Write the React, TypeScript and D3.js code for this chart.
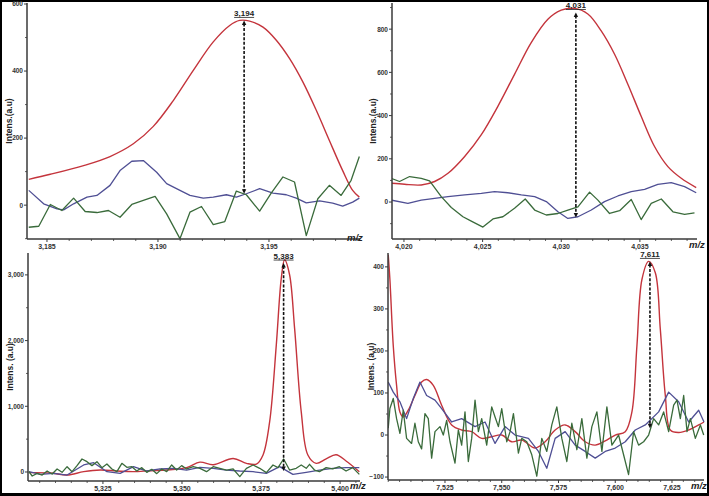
import React from 'react';
import * as d3 from 'd3';

type Pt = [number, number];

// ---------- Panel 1 (m/z 3,194) ----------
const p1Red: Pt[] = [[3184.18,77],[3185.15,92],[3186.65,118],[3187.84,145],[3188.89,183],[3189.79,235],[3190.69,312],[3191.59,402],[3192.49,487],[3193.23,536],[3193.68,551],[3194.13,549],[3194.73,531],[3195.33,492],[3195.93,437],[3196.53,367],[3197.13,283],[3197.72,193],[3198.32,103],[3198.77,44],[3199.07,24]];
const p1Blue: Pt[] = [[3184.18,44],[3184.85,4],[3185.45,-11],[3185.75,-14],[3186.2,4],[3186.8,24],[3187.25,29],[3187.84,59],[3188.29,103],[3188.82,131],[3189.34,133],[3189.94,98],[3190.39,64],[3190.99,44],[3191.44,29],[3192.04,21],[3192.49,24],[3193.08,31],[3193.53,24],[3193.98,34],[3194.58,49],[3195.18,36],[3195.78,31],[3196.23,21],[3196.68,7],[3197.28,13],[3197.87,6],[3198.32,-3],[3198.77,9],[3199.07,21]];
const p1Green: Pt[] = [[3184.18,-66],[3184.63,-63],[3185.15,2],[3185.67,-16],[3186.2,21],[3186.72,-19],[3187.25,-22],[3187.77,-16],[3188.29,-36],[3188.82,2],[3189.34,14],[3189.87,26],[3190.39,-26],[3190.99,-100],[3191.44,-21],[3191.96,-4],[3192.49,-58],[3193.01,-49],[3193.53,42],[3193.98,31],[3194.58,-18],[3195.1,36],[3195.63,84],[3196.15,69],[3196.68,-91],[3197.2,19],[3197.72,59],[3198.25,29],[3198.7,74],[3199.07,145]];
const p1Peak = { mz: 3193.88, top: 551, bottom: 34, label: '3,194' };
const p1XTicks = [3185, 3190, 3195];
const p1YTicks = [0, 200, 400, 600];

// ---------- Panel 2 (m/z 4,031) ----------
const p2Red: Pt[] = [[4019.19,87],[4020.04,82],[4021.1,79],[4021.95,95],[4022.8,133],[4023.86,211],[4024.92,312],[4025.97,443],[4027.03,591],[4028.09,738],[4029.15,846],[4030,888],[4030.85,896],[4031.69,870],[4032.54,792],[4033.39,684],[4034.24,544],[4035.08,397],[4035.93,257],[4036.78,164],[4037.63,110],[4038.58,67]];
const p2Blue: Pt[] = [[4019.19,9],[4020.25,-6],[4021.1,9],[4021.95,17],[4022.8,25],[4023.86,33],[4024.92,40],[4025.76,48],[4026.61,43],[4027.46,33],[4028.31,25],[4029.05,2],[4029.79,-45],[4030.42,-76],[4031.06,-68],[4031.91,-37],[4032.75,2],[4033.6,28],[4034.45,48],[4035.3,59],[4036.14,82],[4036.99,90],[4037.84,71],[4038.58,43]];
const p2Green: Pt[] = [[4019.19,110],[4019.72,95],[4020.36,118],[4021.1,110],[4021.63,98],[4022.37,25],[4023.01,-25],[4023.75,-68],[4024.28,-88],[4025.02,-116],[4025.66,-78],[4026.29,-68],[4027.03,-29],[4027.71,14],[4028.31,-37],[4029.05,-60],[4029.79,-53],[4030.42,-37],[4031.06,-22],[4031.8,46],[4032.33,9],[4033.07,-53],[4033.71,-40],[4034.45,12],[4035.08,-81],[4035.72,-6],[4036.36,14],[4037.1,-45],[4037.84,-57],[4038.47,-50]];
const p2Peak = { mz: 4030.93, top: 877, bottom: -71, label: '4,031' };
const p2XTicks = [4020, 4025, 4030, 4035];
const p2YTicks = [0, 200, 400, 600, 800];

// ---------- Panel 3 (m/z 5,383) ----------
const p3Red: Pt[] = [[5301.58,-10],[5308.4,-15],[5313.66,-46],[5318.91,5],[5324.16,30],[5329.41,15],[5334.66,5],[5339.92,20],[5345.17,30],[5351.47,66],[5355.67,150],[5359.87,110],[5366.18,205],[5370.38,132],[5373.53,120],[5375.63,259],[5377.73,767],[5379.83,1935],[5381.41,2951],[5382.46,3231],[5384.03,3002],[5385.61,2190],[5387.71,920],[5389.81,259],[5392.44,132],[5395.59,200],[5398.74,262],[5401.89,168],[5406.09,5]];
const p3Blue: Pt[] = [[5301.58,5],[5305.25,-36],[5309.45,-20],[5313.66,-46],[5318.91,107],[5322.06,142],[5326.26,5],[5330.46,-20],[5334.66,81],[5338.87,15],[5343.07,46],[5347.27,56],[5351.47,30],[5355.67,71],[5359.87,56],[5364.08,30],[5368.28,15],[5372.48,5],[5376.68,-20],[5380.88,81],[5385.08,-36],[5389.29,-5],[5393.49,30],[5397.69,56],[5401.89,66],[5406.09,66]];
const p3Green: Pt[] = [[5301.58,5],[5302.63,-61],[5304.2,-20],[5305.78,-46],[5307.35,15],[5308.93,-30],[5310.5,46],[5312.08,-5],[5313.66,81],[5315.23,5],[5316.81,97],[5318.38,198],[5319.96,157],[5321.53,97],[5323.11,157],[5324.68,66],[5326.26,122],[5327.84,46],[5329.41,5],[5330.99,132],[5332.56,71],[5334.14,81],[5335.71,15],[5337.29,66],[5338.87,-5],[5340.44,41],[5342.02,-25],[5343.59,46],[5345.17,5],[5346.74,107],[5348.32,30],[5349.89,97],[5351.47,46],[5353.57,81],[5355.67,56],[5357.77,5],[5359.87,81],[5361.97,56],[5364.08,30],[5366.18,46],[5368.28,-71],[5370.38,56],[5372.48,107],[5374.58,56],[5376.68,-10],[5378.78,107],[5380.36,66],[5382.14,198],[5384.03,30],[5386.13,56],[5387.71,107],[5389.29,56],[5390.34,117],[5391.91,30],[5393.49,5],[5395.59,66],[5397.69,46],[5399.79,81],[5401.89,15],[5403.99,66],[5406.09,-36]];
const p3Peak = { mz: 5382.14, top: 3180, bottom: 15, label: '5,383' };
const p3XTicks = [5325, 5350, 5375, 5400];
const p3YTicks = [0, 1000, 2000, 3000];

// ---------- Panel 4 (m/z 7,611) ----------
const p4Red: Pt[] = [[7500,429],[7500.74,370],[7502.21,213],[7503.68,118],[7505.15,55],[7506.62,43],[7508.82,59],[7511.76,94],[7514.71,126],[7516.91,132],[7519.85,118],[7523.53,71],[7527.94,24],[7532.35,12],[7536.76,8],[7541.18,-8],[7545.59,-4],[7550,0],[7554.41,-16],[7558.82,-12],[7564.71,-31],[7569.12,-16],[7573.53,12],[7577.94,24],[7582.35,8],[7586.76,-16],[7591.18,-24],[7595.59,-14],[7600,0],[7604.41,8],[7607.35,55],[7609.56,213],[7611.76,370],[7614.71,413],[7617.65,386],[7619.85,252],[7622.06,94],[7624.26,12],[7627.94,6],[7632.35,12],[7636.76,24],[7639.1,31]];
const p4Blue: Pt[] = [[7500,126],[7502.21,102],[7505.15,79],[7508.09,39],[7511.03,87],[7513.97,126],[7516.91,94],[7520.59,83],[7523.53,63],[7527.94,31],[7532.35,39],[7538.24,20],[7542.65,31],[7547.06,-20],[7551.47,20],[7555.88,0],[7561.76,-8],[7566.18,-39],[7569.85,-79],[7573.53,-8],[7577.94,8],[7582.35,-24],[7586.76,-39],[7591.18,-55],[7595.59,-39],[7600,-31],[7604.41,-16],[7608.82,12],[7613.24,24],[7619.12,55],[7623.53,102],[7627.94,79],[7632.35,31],[7636.76,59],[7639.1,31]];
const p4Green: Pt[] = [[7500,16],[7500.74,63],[7502.21,87],[7503.68,39],[7505.15,4],[7506.62,59],[7508.09,-8],[7510.29,-20],[7511.76,28],[7513.24,-16],[7514.71,-33],[7516.18,51],[7517.65,39],[7519.12,-55],[7520.59,8],[7522.79,20],[7524.26,0],[7525.74,35],[7527.21,-16],[7529.41,-67],[7530.88,12],[7532.35,-24],[7533.82,55],[7535.29,-63],[7536.76,-8],[7538.24,83],[7539.71,8],[7541.18,39],[7543.38,-24],[7545.59,67],[7547.06,43],[7548.53,20],[7550,63],[7552.21,-16],[7553.68,8],[7555.15,51],[7557.35,-43],[7558.82,-8],[7561.03,-16],[7563.24,-47],[7565.44,-98],[7567.65,-8],[7569.85,-39],[7572.06,24],[7574.26,67],[7576.47,-8],[7578.68,-63],[7580.88,28],[7583.09,-35],[7585.29,39],[7587.5,-55],[7589.71,20],[7591.91,55],[7594.12,-39],[7596.32,67],[7598.53,-24],[7601.47,0],[7603.68,-47],[7605.88,-94],[7608.09,8],[7610.29,-24],[7612.5,-16],[7614.71,0],[7616.91,39],[7619.12,24],[7621.32,55],[7623.53,8],[7625.74,71],[7627.21,83],[7628.68,39],[7630.15,94],[7631.62,8],[7633.09,39],[7635.29,-8],[7637.5,24],[7638.97,0]];
const p4Peak = { mz: 7615.29, top: 413, bottom: 16, label: '7,611' };
const p4XTicks = [7525, 7550, 7575, 7600, 7625];
const p4YTicks = [-100, 0, 100, 200, 300, 400];

const RED = '#c4343c';
const BLUE = '#4f4f94';
const GREEN = '#3a6b3b';
const AXIS = '#3a3a3a';
const FONT = '"Liberation Sans", Arial, sans-serif';

interface PanelCfg {
  id: string;
  left: number; right: number; top: number; bottom: number;
  xDomain: [number, number]; yDomain: [number, number];
  xTicks: number[]; yTicks: number[];
  xMinor: number; yMinor: number;
  red: Pt[]; blue: Pt[]; green: Pt[];
  peak: { mz: number; top: number; bottom: number; label: string };
  yLabel: string; yLabelX: number;
  mzX: number; mzY: number;
}

const panels: PanelCfg[] = [
  { id: 'p1', left: 27, right: 360, top: 3, bottom: 239, xDomain: [3184.1, 3199.1], yDomain: [-101, 603],
    xTicks: p1XTicks, yTicks: p1YTicks, xMinor: 1, yMinor: 100, red: p1Red, blue: p1Blue, green: p1Green,
    peak: p1Peak, yLabel: 'Intens.(a.u)', yLabelX: 12, mzX: 347, mzY: 241 },
  { id: 'p2', left: 392, right: 697, top: 3, bottom: 239, xDomain: [4019.24, 4038.63], yDomain: [-171, 921],
    xTicks: p2XTicks, yTicks: p2YTicks, xMinor: 1, yMinor: 100, red: p2Red, blue: p2Blue, green: p2Green,
    peak: p2Peak, yLabel: 'Intens.(a.u)', yLabelX: 376, mzX: 689, mzY: 248 },
  { id: 'p3', left: 28, right: 360, top: 253, bottom: 481, xDomain: [5301.3, 5406.3], yDomain: [-137, 3333],
    xTicks: p3XTicks, yTicks: p3YTicks, xMinor: 5, yMinor: 500, red: p3Red, blue: p3Blue, green: p3Green,
    peak: p3Peak, yLabel: 'Intens. (a.u)', yLabelX: 13, mzX: 350, mzY: 489 },
  { id: 'p4', left: 388, right: 704, top: 253, bottom: 480, xDomain: [7499.9, 7639.1], yDomain: [-107, 433],
    xTicks: p4XTicks, yTicks: p4YTicks, xMinor: 5, yMinor: 50, red: p4Red, blue: p4Blue, green: p4Green,
    peak: p4Peak, yLabel: 'Intens. (a.u)', yLabelX: 374, mzX: 691, mzY: 489 },
];

const fmt = d3.format(',');

function Panel({ cfg }: { cfg: PanelCfg }) {
  const x = d3.scaleLinear().domain(cfg.xDomain).range([cfg.left, cfg.right]);
  const y = d3.scaleLinear().domain(cfg.yDomain).range([cfg.bottom, cfg.top]);
  const lin = d3.line<Pt>().x(d => x(d[0])).y(d => y(d[1]));
  const smooth = d3.line<Pt>().x(d => x(d[0])).y(d => y(d[1])).curve(d3.curveCatmullRom.alpha(0.5));

  const xMinorTicks = d3.range(Math.ceil(cfg.xDomain[0] / cfg.xMinor) * cfg.xMinor, cfg.xDomain[1], cfg.xMinor)
    .filter(v => !cfg.xTicks.includes(v));
  const yMinorTicks = d3.range(Math.ceil(cfg.yDomain[0] / cfg.yMinor) * cfg.yMinor, cfg.yDomain[1], cfg.yMinor)
    .filter(v => !cfg.yTicks.includes(v));

  const px = x(cfg.peak.mz);
  const pyTop = y(cfg.peak.top);
  const pyBot = y(cfg.peak.bottom);
  const labelW = 20;
  const yMid = (cfg.top + cfg.bottom) / 2;

  return (
    <g>
      <defs>
        <clipPath id={`clip-${cfg.id}`}>
          <rect x={cfg.left} y={cfg.top - 2} width={cfg.right - cfg.left + 2} height={cfg.bottom - cfg.top + 2} />
        </clipPath>
      </defs>
      <g clipPath={`url(#clip-${cfg.id})`} fill="none" strokeLinejoin="round">
        <path d={smooth(cfg.red) || ''} stroke={RED} strokeWidth={1.4} />
        <path d={lin(cfg.blue) || ''} stroke={BLUE} strokeWidth={1.3} />
        <path d={lin(cfg.green) || ''} stroke={GREEN} strokeWidth={1.3} />
      </g>
      {/* peak arrow */}
      <line x1={px} x2={px} y1={pyTop + 3} y2={pyBot - 3} stroke="#111" strokeWidth={1.6} strokeDasharray="3,1.6" />
      <path d={`M${px},${pyTop} L${px - 2.2},${pyTop + 4.5} L${px + 2.2},${pyTop + 4.5} Z`} fill="#111" />
      <path d={`M${px},${pyBot} L${px - 2.2},${pyBot - 4.5} L${px + 2.2},${pyBot - 4.5} Z`} fill="#111" />
      <text x={px} y={pyTop - 4.5} textAnchor="middle" fontFamily={FONT} fontWeight="bold" fontSize={8} fill="#222">
        {cfg.peak.label}
      </text>
      <line x1={px - labelW / 2} x2={px + labelW / 2} y1={pyTop - 3} y2={pyTop - 3} stroke="#222" strokeWidth={0.8} />
      {/* axes */}
      <line x1={cfg.left} x2={cfg.left} y1={cfg.top} y2={cfg.bottom} stroke={AXIS} strokeWidth={1.5} />
      <line x1={cfg.left} x2={cfg.right} y1={cfg.bottom} y2={cfg.bottom} stroke={AXIS} strokeWidth={1.5} />
      {cfg.xTicks.map(t => (
        <g key={`xt${t}`}>
          <line x1={x(t)} x2={x(t)} y1={cfg.bottom} y2={cfg.bottom + 3} stroke={AXIS} strokeWidth={1} />
          <text x={x(t)} y={cfg.bottom + 10} textAnchor="middle" fontFamily={FONT} fontWeight="bold" fontSize={7} fill="#333">
            {fmt(t)}
          </text>
        </g>
      ))}
      {xMinorTicks.map(t => (
        <line key={`xm${t}`} x1={x(t)} x2={x(t)} y1={cfg.bottom} y2={cfg.bottom + 2} stroke={AXIS} strokeWidth={0.8} />
      ))}
      {cfg.yTicks.map(t => (
        <g key={`yt${t}`}>
          <line x1={cfg.left - 3} x2={cfg.left} y1={y(t)} y2={y(t)} stroke={AXIS} strokeWidth={1} />
          <text x={cfg.left - 4} y={y(t) + 2.4} textAnchor="end" fontFamily={FONT} fontWeight="bold" fontSize={6.5} fill="#333">
            {fmt(t)}
          </text>
        </g>
      ))}
      {yMinorTicks.map(t => (
        <line key={`ym${t}`} x1={cfg.left - 2} x2={cfg.left} y1={y(t)} y2={y(t)} stroke={AXIS} strokeWidth={0.8} />
      ))}
      <text transform={`translate(${cfg.yLabelX},${yMid}) rotate(-90)`} textAnchor="middle" fontFamily={FONT}
        fontWeight="bold" fontSize={8.5} fill="#222">
        {cfg.yLabel}
      </text>
      <text x={cfg.mzX} y={cfg.mzY} fontFamily={FONT} fontWeight="bold" fontStyle="italic" fontSize={9.5} fill="#222">
        m/z
      </text>
    </g>
  );
}

export default function App() {
  return (
    <svg width={709} height={496} viewBox="0 0 709 496"
      style={{ position: 'absolute', left: 0, top: 0, display: 'block' }}>
      <rect x={0} y={0} width={709} height={496} fill="#000" />
      <rect x={2} y={2} width={705} height={491} fill="#fff" />
      {panels.map(p => <Panel key={p.id} cfg={p} />)}
    </svg>
  );
}
